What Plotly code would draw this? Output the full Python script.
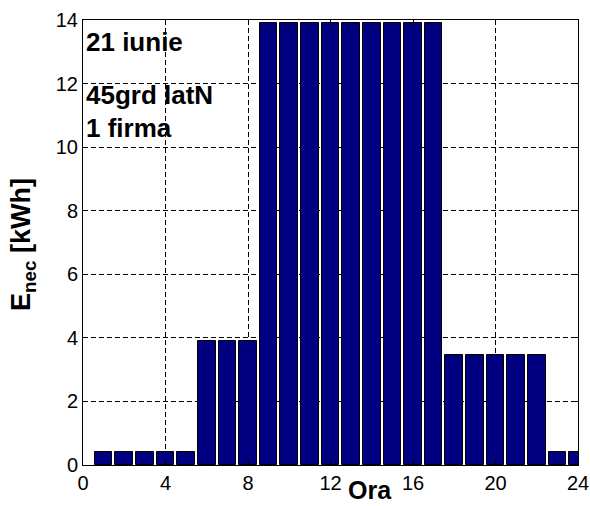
import plotly.graph_objects as go

hours = list(range(1, 25))
energy = [0.4]*5 + [3.9]*3 + [13.9]*9 + [3.45]*5 + [0.4]*2
x_ticks = [0, 4, 8, 12, 16, 20, 24]
y_ticks = [0, 2, 4, 6, 8, 10, 12, 14]

FONT = "Liberation Sans, Arial"

fig = go.Figure()
fig.add_trace(go.Bar(x=hours, y=energy, width=0.85,
                     marker=dict(color="#000080", line=dict(color="black", width=1))))

axis_common = dict(showline=True, linecolor="black", linewidth=1, mirror="ticks",
                   ticks="inside", ticklen=5, tickcolor="black",
                   showgrid=True, gridcolor="black", griddash="5px,3px", gridwidth=1,
                   zeroline=False, automargin=False,
                   tickfont=dict(family=FONT, size=20, color="black"))

fig.update_layout(
    width=590, height=506,
    margin=dict(l=83, r=12, t=20, b=41),
    plot_bgcolor="white", paper_bgcolor="white",
    showlegend=False,
    bargap=0,
    xaxis=dict(range=[0, 24], tickvals=x_ticks, **axis_common),
    yaxis=dict(range=[0, 14], tickvals=y_ticks, **axis_common),
    annotations=[
        dict(text="<b>21 iunie</b>", xref="paper", yref="paper", x=0.002, y=0.950,
             xanchor="left", yanchor="middle", showarrow=False,
             font=dict(family=FONT, size=26, color="black")),
        dict(text="<b>45grd latN</b>", xref="paper", yref="paper", x=0.002, y=0.831,
             xanchor="left", yanchor="middle", showarrow=False,
             font=dict(family=FONT, size=26, color="black")),
        dict(text="<b>1 firma</b>", xref="paper", yref="paper", x=0.002, y=0.757,
             xanchor="left", yanchor="middle", showarrow=False,
             font=dict(family=FONT, size=26, color="black")),
        dict(text="<b>Ora</b>", xref="x", yref="paper", x=13.9, y=-0.056,
             xanchor="center", yanchor="middle", showarrow=False,
             font=dict(family=FONT, size=25, color="black")),
        dict(text="<b>E<sub>nec</sub> [kWh]</b>", xref="paper", yref="paper",
             x=-0.122, y=0.4955, xanchor="center", yanchor="middle", textangle=-90,
             showarrow=False,
             font=dict(family=FONT, size=27, color="black")),
    ],
)

fig.write_html("out.html", config={"displayModeBar": False},
               post_script="document.body.style.margin='0';")
